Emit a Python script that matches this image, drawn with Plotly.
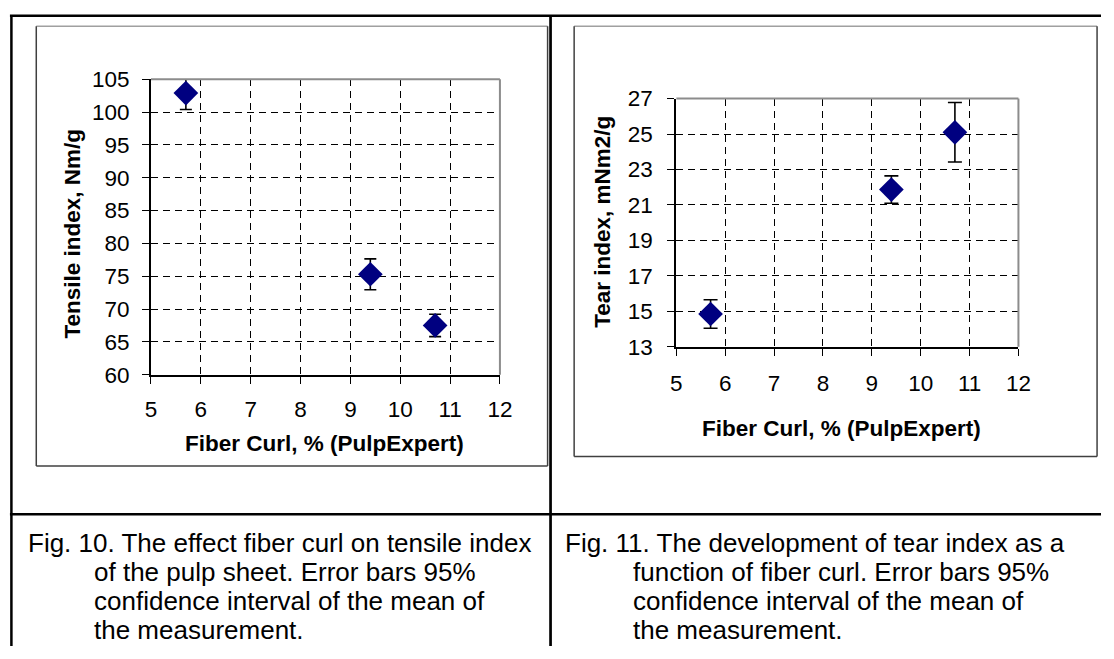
import plotly.graph_objects as go

W, H = 1114, 659

# ---- data ----
fiber_curl = [5.7, 9.4, 10.7]
tensile_index = [102.9, 75.3, 67.5]
tensile_err = [2.5, 2.35, 1.7]
tear_index = [14.85, 21.87, 25.1]
tear_err = [0.8, 0.77, 1.68]

x_ticks = [5, 6, 7, 8, 9, 10, 11, 12]
tensile_ticks = [60, 65, 70, 75, 80, 85, 90, 95, 100, 105]
tear_ticks = [13, 15, 17, 19, 21, 23, 25, 27]

caption_left = ["Fig. 10. The effect fiber curl on tensile index",
                "of the pulp sheet. Error bars 95%",
                "confidence interval of the mean of",
                "the measurement."]
caption_right = ["Fig. 11. The development of tear index as a",
                 "function of fiber curl. Error bars 95%",
                 "confidence interval of the mean of",
                 "the measurement."]

FONT = "Liberation Sans, Arial, sans-serif"
NAVY = "#000080"


def px(x):
    return x / W


def py(y):
    return 1 - y / H


fig = go.Figure()

fig.add_trace(go.Scatter(
    x=fiber_curl, y=tensile_index, mode="markers",
    marker=dict(symbol="diamond", size=19, color=NAVY, line=dict(width=0)),
    error_y=dict(type="data", array=tensile_err, visible=True, color="black",
                 thickness=1.6, width=6),
    xaxis="x", yaxis="y", showlegend=False))

fig.add_trace(go.Scatter(
    x=fiber_curl, y=tear_index, mode="markers",
    marker=dict(symbol="diamond", size=19, color=NAVY, line=dict(width=0)),
    error_y=dict(type="data", array=tear_err, visible=True, color="black",
                 thickness=1.6, width=7),
    xaxis="x2", yaxis="y2", showlegend=False))

axis_common = dict(
    showgrid=True, gridcolor="black", gridwidth=1, griddash="7px,5px",
    zeroline=False, showline=True, linecolor="black", linewidth=2,
    ticks="outside", ticklen=7, tickwidth=1, tickcolor="black",
    tickfont=dict(family=FONT, size=22.5, color="black"),
)

fig.update_layout(
    width=W, height=H, autosize=False,
    margin=dict(l=0, r=0, t=0, b=0),
    paper_bgcolor="white", plot_bgcolor="white",
    xaxis=dict(domain=[px(147.5), px(502.5)], range=[5, 12], tickvals=x_ticks,
               anchor="y", ticklabelstandoff=6, **axis_common),
    yaxis=dict(domain=[py(377), py(70)], range=[60, 105], tickvals=tensile_ticks,
               anchor="x", ticklabelstandoff=8, **axis_common),
    xaxis2=dict(domain=[px(682), px(1030)], range=[5, 12], tickvals=x_ticks,
                anchor="y2", ticklabelstandoff=8, **axis_common),
    yaxis2=dict(domain=[py(348), py(90)], range=[13, 27], tickvals=tear_ticks,
                anchor="x2", ticklabelstandoff=10, **axis_common),
)

shapes = []


def pline(x0, y0, x1, y1, color="black", width=2.5):
    shapes.append(dict(type="line", xref="paper", yref="paper",
                       x0=px(x0), y0=py(y0), x1=px(x1), y1=py(y1),
                       line=dict(color=color, width=width)))


# table lines
pline(4, 4, 1114, 4)
pline(5.5, 4, 5.5, 659)
pline(554, 4, 554, 659, width=2.7)
pline(4, 522, 1114, 522)

# chart frames
for (l, t, r, b) in [(30.8, 14.7, 551, 472), (578, 14.7, 1110, 462)]:
    pline(l, t, r, t, color="#a0a0a0", width=1.5)
    pline(l, t, l, b, color="#404040", width=1.5)
    pline(r, t, r, b, color="#404040", width=1.5)
    pline(l, b, r, b, color="#404040", width=1.5)

# grey top/right borders of plot areas
for xr, yr in [("x", "y"), ("x2", "y2")]:
    shapes.append(dict(type="line", xref=f"{xr} domain", yref=f"{yr} domain",
                       x0=0, x1=1, y0=1, y1=1, line=dict(color="#8c8c8c", width=2)))
    shapes.append(dict(type="line", xref=f"{xr} domain", yref=f"{yr} domain",
                       x0=1, x1=1, y0=0, y1=1, line=dict(color="#8c8c8c", width=2)))

fig.update_layout(shapes=shapes)

ann = []


def text(x, y, s, size=21, bold=False, angle=0, xanchor="center"):
    ann.append(dict(xref="paper", yref="paper", x=px(x), y=py(y), text=s,
                    showarrow=False, xanchor=xanchor, yanchor="middle",
                    textangle=angle,
                    font=dict(family=FONT, size=size, color="black",
                              weight="bold" if bold else "normal")))


# axis titles
text(67.5, 230, "Tensile index, Nm/g", size=22.5, bold=True, angle=-90)
text(324, 449, "Fiber Curl, % (PulpExpert)", size=22.5, bold=True)
text(607, 218.5, "Tear index, mNm2/g", size=22.5, bold=True, angle=-90)
text(850, 433, "Fiber Curl, % (PulpExpert)", size=22.5, bold=True)

# captions
line_y = [552, 582, 612, 642]
for i, s in enumerate(caption_left):
    text(20 if i == 0 else 87, line_y[i], s, size=26, xanchor="left")
for i, s in enumerate(caption_right):
    text(567 if i == 0 else 636, line_y[i], s, size=26, xanchor="left")

fig.update_layout(annotations=ann)

fig.write_html("out.html")
